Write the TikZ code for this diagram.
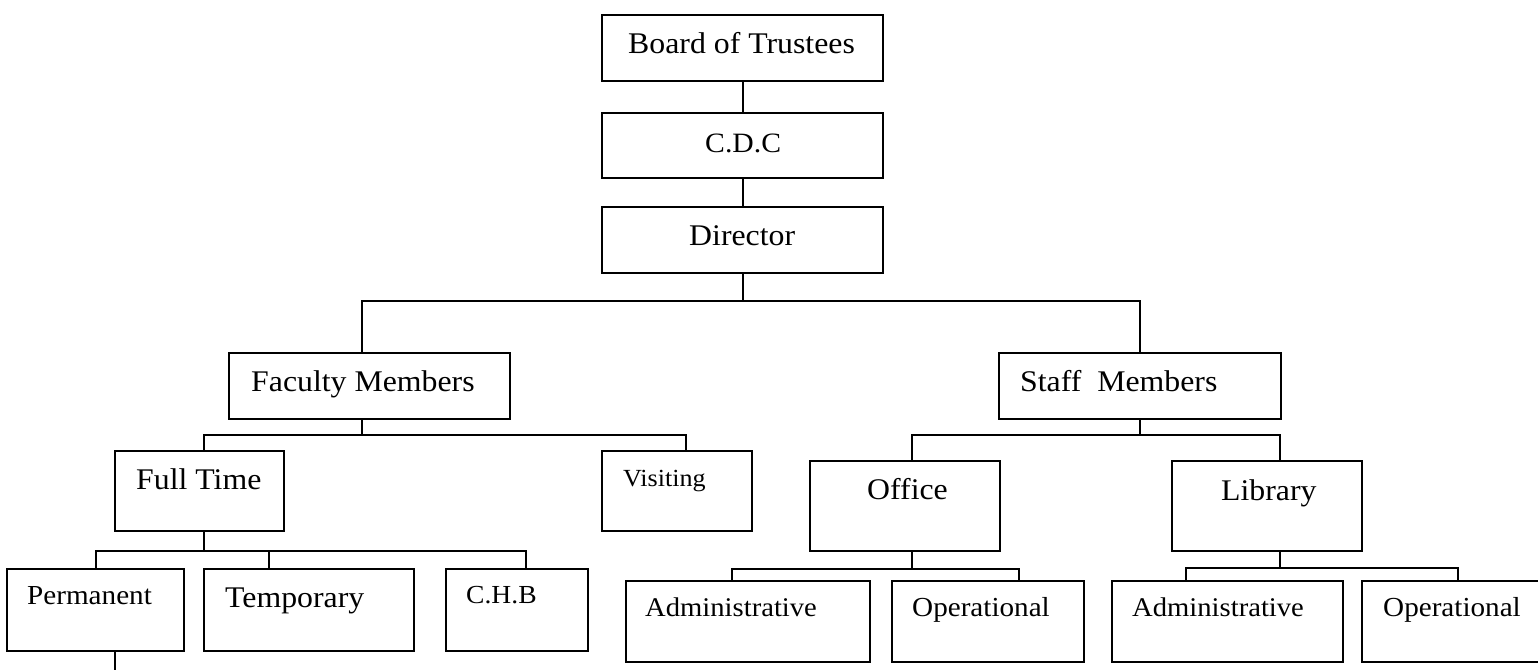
\documentclass[tikz,border=0pt]{standalone}
\usepackage{fontspec}
\setmainfont[FakeStretch=1.06]{Liberation Serif}
\begin{document}
\begin{tikzpicture}[x=1pt,y=-1pt,
  box/.style={draw,line width=2pt,inner sep=0pt},
  lbl/.style={anchor=base west,inner sep=0pt},
  conn/.style={line width=2pt},
  fbig/.style={font=\fontsize{30}{36}\selectfont},
  fmid/.style={font=\fontsize{27.5}{33}\selectfont},
  fsml/.style={font=\fontsize{26}{31}\selectfont}]
\useasboundingbox (0,0) rectangle (1538,669);
\fill[white] (0,0) rectangle (1538,669);
% boxes
\node[box,minimum width=281pt,minimum height=66pt] (board) at (742.5,48) {};
\node[box,minimum width=281pt,minimum height=65pt] (cdc) at (742.5,145.5) {};
\node[box,minimum width=281pt,minimum height=66pt] (dir) at (742.5,240) {};
\node[box,minimum width=281pt,minimum height=66pt] (fac) at (369.5,386) {};
\node[box,minimum width=282pt,minimum height=66pt] (staff) at (1140,386) {};
\node[box,minimum width=169pt,minimum height=80pt] (full) at (199.5,491) {};
\node[box,minimum width=150pt,minimum height=80pt] (vis) at (677,491) {};
\node[box,minimum width=190pt,minimum height=90pt] (office) at (905,506) {};
\node[box,minimum width=190pt,minimum height=90pt] (lib) at (1267,506) {};
\node[box,minimum width=177pt,minimum height=82pt] (perm) at (95.5,610) {};
\node[box,minimum width=210pt,minimum height=82pt] (temp) at (309,610) {};
\node[box,minimum width=142pt,minimum height=82pt] (chb) at (517,610) {};
\node[box,minimum width=244pt,minimum height=81pt] (adm1) at (748,621.5) {};
\node[box,minimum width=192pt,minimum height=81pt] (op1) at (988,621.5) {};
\node[box,minimum width=231pt,minimum height=81pt] (adm2) at (1227.5,621.5) {};
\node[box,minimum width=198pt,minimum height=81pt] (op2) at (1461,621.5) {};
% labels
\node[lbl,fbig] (tboard) at (628,53) {Board of Trustees};
\node[lbl,font=\fontsize{28}{34}\selectfont] (tcdc) at (705,152) {C.D.C};
\node[lbl,fbig] (tdir) at (689,245) {Director};
\node[lbl,fbig] (tfac) at (251,391) {Faculty Members};
\node[lbl,fbig] (tstaff) at (1020,391) {Staff\ \ Members};
\node[lbl,fbig] (tfull) at (136,489) {Full Time};
\node[lbl,font=\fontsize{24.6}{30}\selectfont] (tvis) at (623,486) {Visiting};
\node[lbl,fbig] (toffice) at (867,499) {Office};
\node[lbl,fbig] (tlib) at (1221,500) {Library};
\node[lbl,fmid] (tperm) at (27,604) {Permanent};
\node[lbl,fbig] (ttemp) at (225,607) {Temporary};
\node[lbl,fsml] (tchb) at (466,603) {C.H.B};
\node[lbl,font=\fontsize{27}{33}\selectfont] (tadm1) at (645,616) {Administrative};
\node[lbl,fmid] (top1) at (912,616) {Operational};
\node[lbl,font=\fontsize{27}{33}\selectfont] (tadm2) at (1132,616) {Administrative};
\node[lbl,fmid] (top2) at (1383,616) {Operational};
% junction coordinates
\coordinate (bar1) at (742.5,301);
\coordinate (bar2) at (362,435);
\coordinate (bar3) at (1140,435);
\coordinate (bar4) at (204,551);
\coordinate (bar5) at (912,569);
\coordinate (bar6) at (1280,568);
% connectors
\draw[conn] (board.south) -- (cdc.north);
\draw[conn] (cdc.south) -- (dir.north);
\draw[conn] (dir.south) -- (bar1);
\draw[conn] ([xshift=-7.5pt]fac.north) |- (bar1) -| (staff.north);
\draw[conn] ([xshift=-7.5pt]fac.south) -- (bar2);
\draw[conn] ([xshift=4.5pt]full.north) |- (bar2) -| ([xshift=9pt]vis.north);
\draw[conn] (staff.south) -- (bar3);
\draw[conn] ([xshift=7pt]office.north) |- (bar3) -| ([xshift=13pt]lib.north);
\draw[conn] ([xshift=4.5pt]full.south) -- (bar4);
\draw[conn] (perm.north) |- (bar4) -| ([xshift=9pt]chb.north);
\draw[conn] ([xshift=-40pt]temp.north) -- ([xshift=-40pt]temp.north |- bar4);
\draw[conn] ([xshift=7pt]office.south) -- (bar5);
\draw[conn] ([xshift=-16pt]adm1.north) |- (bar5) -| ([xshift=31pt]op1.north);
\draw[conn] ([xshift=13pt]lib.south) -- (bar6);
\draw[conn] ([xshift=-41.5pt]adm2.north) |- (bar6) -| ([xshift=-3pt]op2.north);
\coordinate (pend) at (115,675);
\draw[conn] ([xshift=19.5pt]perm.south) -- (pend);
\end{tikzpicture}
\end{document}
